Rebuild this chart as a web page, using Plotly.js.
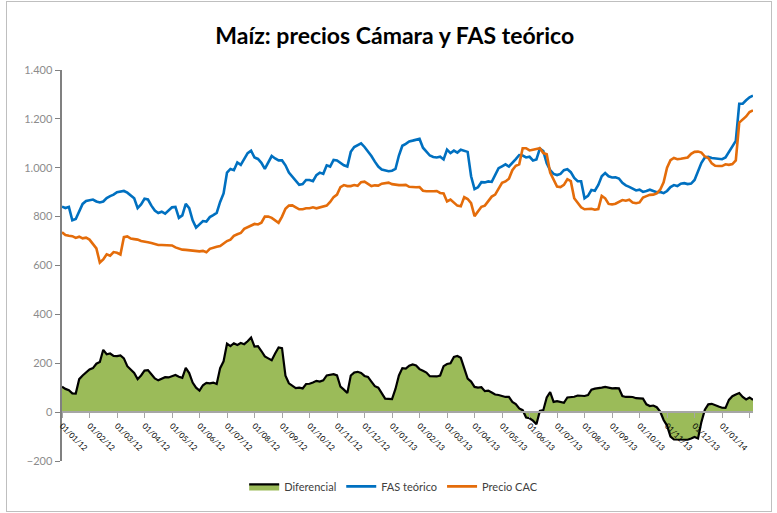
<!DOCTYPE html>
<html>
<head>
<meta charset="utf-8">
<script src="https://cdn.plot.ly/plotly-3.0.1.min.js"></script>
<style>
  html, body { margin: 0; padding: 0; background: #ffffff; }
  #wrap { position: relative; width: 777px; height: 513px; }
  #chart { width: 777px; height: 513px; }
  #frame { position: absolute; left: 6px; top: 1px; width: 764px; height: 509px; border: 1px solid #bfbfbf; pointer-events: none; }
</style>
</head>
<body>
<div id="wrap"><div id="chart"></div><div id="frame"></div></div>
<script>
// Tick labels (one per month)
const etiquetasFecha = ["01/01/12","01/02/12","01/03/12","01/04/12","01/05/12","01/06/12","01/07/12","01/08/12","01/09/12","01/10/12","01/11/12","01/12/12",
  "01/01/13","01/02/13","01/03/13","01/04/13","01/05/13","01/06/13","01/07/13","01/08/13","01/09/13","01/10/13","01/11/13","01/12/13","01/01/14","01/02/14"];

// Observations, 8 per month
const fasTeorico = [841,835,840,785,790,825,852,864,868,870,862,858,862,876,884,890,900,903,905,898,
  885,875,835,850,873,870,845,825,815,820,812,825,838,840,795,805,852,835,785,755,
  770,782,780,798,806,815,860,895,980,995,990,1022,1012,1035,1060,1070,1042,1036,1020,995,
  1020,1048,1038,1030,1030,1010,980,962,945,930,933,950,950,945,970,980,975,1010,1005,1032,
  1030,1018,1010,1005,1065,1085,1092,1100,1085,1068,1048,1025,1005,993,990,986,988,995,1050,1090,
  1098,1108,1111,1113,1118,1082,1064,1050,1044,1042,1045,1034,1074,1060,1070,1062,1074,1068,1065,965,
  913,920,941,940,944,942,970,998,1006,1014,1005,1018,1035,1052,1050,1042,1045,1030,1034,1078,
  1068,1018,990,975,970,975,990,994,982,958,945,945,875,885,909,906,930,965,978,965,
  960,961,956,938,928,922,916,907,910,901,905,910,905,900,901,896,905,921,929,925,
  935,937,933,935,950,982,1020,1042,1045,1040,1038,1036,1035,1042,1065,1085,1110,1262,1262,1276,
  1288,1295];

const precioCAC = [736,725,722,720,713,718,711,714,706,690,670,612,625,646,640,655,652,645,716,719,
  710,708,706,700,696,695,692,688,684,684,684,683,682,674,668,665,664,663,662,658,
  658,660,654,668,674,677,680,692,700,706,721,728,733,750,757,762,770,768,775,800,
  800,795,785,775,800,832,845,846,838,830,830,834,834,838,834,837,839,845,860,880,
  890,921,929,925,925,929,926,941,943,933,925,928,927,935,937,939,933,930,929,929,
  930,922,920,920,921,906,904,903,904,905,897,895,862,870,857,845,842,880,872,855,
  802,820,840,845,865,882,890,915,938,944,955,990,1008,1014,1080,1080,1071,1074,1078,1080,
  1060,1055,980,950,923,921,930,953,945,875,858,838,830,831,832,828,831,885,875,852,
  850,853,862,868,865,869,858,855,858,878,884,889,890,895,910,940,1000,1031,1040,1035,
  1037,1038,1042,1057,1065,1066,1062,1046,1040,1018,1008,1007,1007,1014,1012,1015,1030,1185,1198,1210,
  1228,1235];

const diferencial = [104,95,90,77,76,135,150,162,175,180,198,205,255,237,240,230,229,232,220,188,
  176,160,135,150,170,172,155,138,130,135,143,142,148,152,145,140,181,160,121,100,
  88,110,120,118,121,115,180,208,280,270,282,275,283,278,290,305,268,270,250,228,
  220,212,240,265,262,149,118,106,98,100,97,115,116,121,128,125,130,150,153,155,
  150,104,92,78,150,162,165,160,148,144,125,106,100,75,55,54,53,95,150,180,
  178,190,195,191,176,169,162,147,145,146,150,188,197,200,226,230,222,175,137,125,
  103,100,102,86,88,80,72,70,66,62,62,42,33,15,8,-22,-25,-35,-50,5,
  8,60,82,42,45,40,38,60,61,63,68,68,66,70,92,96,97,100,103,100,
  97,98,97,66,62,63,62,57,57,55,32,25,27,20,2,-32,-55,-100,-112,-113,
  -111,-113,-113,-108,-102,-108,-40,10,32,34,30,23,18,17,50,65,72,78,62,52,
  60,50];

const obsPorMes = 8;
const xObs = fasTeorico.map((_, i) => i / obsPorMes);
const tickPos = etiquetasFecha.map((_, i) => i);

const yMin = -200, yMax = 1400;

const traces = [
  {
    x: xObs, y: diferencial, name: 'Diferencial', type: 'scatter', mode: 'lines',
    fill: 'tozeroy', fillcolor: '#9BBB59', line: { color: '#000000', width: 2.2, shape: 'linear' }
  },
  {
    x: xObs, y: fasTeorico, name: 'FAS teórico', type: 'scatter', mode: 'lines',
    line: { color: '#0070C0', width: 2.6, shape: 'linear' }
  },
  {
    x: xObs, y: precioCAC, name: 'Precio CAC', type: 'scatter', mode: 'lines',
    line: { color: '#E46C0A', width: 2.6, shape: 'linear' }
  }
];

const layout = {
  width: 777, height: 513,
  margin: { l: 62, r: 24, t: 70, b: 44 },
  paper_bgcolor: '#ffffff', plot_bgcolor: '#ffffff',
  separators: ',.',
  font: { family: 'Lato, "Liberation Sans", sans-serif', color: '#000000' },
  title: {
    text: 'Maíz: precios Cámara y FAS teórico',
    font: { family: 'Lato, "Liberation Sans", sans-serif', size: 23, color: '#000000', weight: 'bold' },
    x: 0.508, xref: 'container', xanchor: 'center',
    y: 0.93, yref: 'container', yanchor: 'middle'
  },
  xaxis: {
    range: [0, (fasTeorico.length - 1) / obsPorMes],
    tickmode: 'array', tickvals: tickPos, ticktext: etiquetasFecha,
    tickangle: 45, tickfont: { size: 8, color: '#000000' },
    ticks: 'outside', ticklen: 5, tickcolor: '#a6a6a6', tickwidth: 1,
    showline: true, linecolor: '#a6a6a6', linewidth: 2,
    showgrid: false, zeroline: false,
    anchor: 'free', position: (0 - yMin) / (yMax - yMin)
  },
  yaxis: {
    range: [yMin, yMax],
    tickvals: [-200, 0, 200, 400, 600, 800, 1000, 1200, 1400],
    tickformat: ',d',
    tickfont: { size: 11, color: '#8c8c8c' },
    ticks: 'outside', ticklen: 5, tickcolor: '#808080', tickwidth: 1,
    showline: true, linecolor: '#808080', linewidth: 2.5,
    showgrid: false, zeroline: false
  },
  showlegend: true,
  legend: {
    orientation: 'h', x: 0.48, xanchor: 'center', y: -0.065, yanchor: 'middle',
    itemwidth: 30, tracegroupgap: 0,
    font: { size: 11, color: '#404040' }, traceorder: 'normal'
  }
};

Plotly.newPlot('chart', traces, layout, { staticPlot: true, displayModeBar: false });
</script>
</body>
</html>
